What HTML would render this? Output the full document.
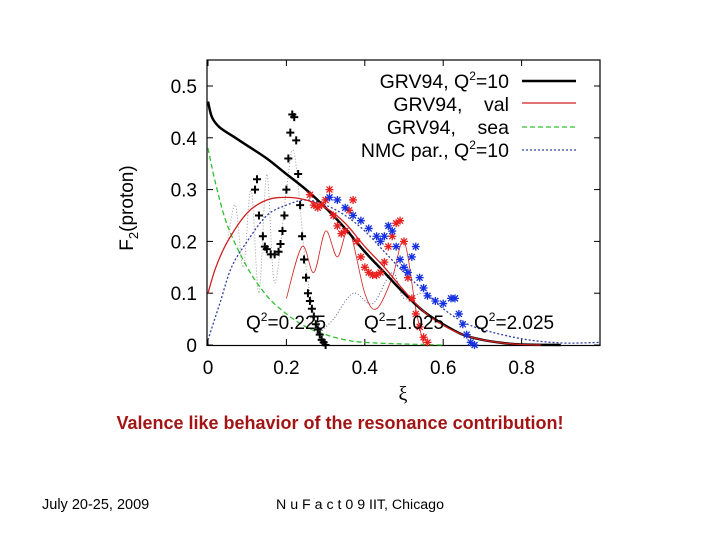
<!DOCTYPE html>
<html><head><meta charset="utf-8"><style>
body{margin:0;background:#fff;width:720px;height:540px;overflow:hidden;font-family:"Liberation Sans",sans-serif}
svg{position:absolute;left:0;top:0}
text{white-space:pre}
</style></head><body>
<svg id="c" width="720" height="540">
<rect x="207" y="60" width="393" height="285.5" fill="none" stroke="#000" stroke-width="1.2"/>
<g id="axes"></g>
<g id="marks"></g>
<text x="133" y="208" transform="rotate(-90 133 208)" text-anchor="middle" font-size="19">F<tspan font-size="13" dy="5">2</tspan><tspan dy="-5">(proton)</tspan></text>
<text x="403" y="400" text-anchor="middle" font-size="20" font-family="Liberation Serif">ξ</text>
<g font-size="19.5">
<text x="509" y="88" text-anchor="end">GRV94, Q<tspan font-size="12" dy="-8">2</tspan><tspan dy="8">=10</tspan></text>
<line x1="522" y1="81" x2="576" y2="81" stroke="#000" stroke-width="2.5"/>
<text x="509" y="111" text-anchor="end">GRV94,    val</text>
<line x1="522" y1="103" x2="576" y2="103" stroke="#d02020" stroke-width="1.2"/>
<text x="509" y="134" text-anchor="end">GRV94,    sea</text>
<line x1="522" y1="127" x2="576" y2="127" stroke="#30c030" stroke-width="1.3" stroke-dasharray="5,3"/>
<text x="509" y="157" text-anchor="end">NMC par., Q<tspan font-size="12" dy="-8">2</tspan><tspan dy="8">=10</tspan></text>
<line x1="522" y1="150" x2="576" y2="150" stroke="#3040a0" stroke-width="1.2" stroke-dasharray="2,2"/>
</g>
<g font-size="19">
<text x="246" y="329">Q<tspan font-size="12" dy="-8">2</tspan><tspan dy="8">=0.225</tspan></text>
<text x="364" y="329">Q<tspan font-size="12" dy="-8">2</tspan><tspan dy="8">=1.025</tspan></text>
<text x="474" y="329">Q<tspan font-size="12" dy="-8">2</tspan><tspan dy="8">=2.025</tspan></text>
</g>
<text x="340" y="429" text-anchor="middle" font-size="18" font-weight="bold" fill="#a31515">Valence like behavior of the resonance contribution!</text>
<text x="42" y="509" font-size="14.5">July 20-25, 2009</text>
<text x="276" y="509" font-size="14.2">N u F a c t 0 9 IIT, Chicago</text>
</svg>
<script>
const xTicks=[0,0.2,0.4,0.6,0.8];
const xTickLabels=["0","0.2","0.4","0.6","0.8"];
const yTicks=[0,0.1,0.2,0.3,0.4,0.5];
const yTickLabels=["0","0.1","0.2","0.3","0.4","0.5"];
const grvTotal=[[0,0.47],[0.01,0.44],[0.03,0.42],[0.07,0.40],[0.1,0.385],[0.15,0.36],[0.2,0.33],[0.25,0.30],[0.3,0.265],[0.35,0.225],[0.4,0.18],[0.45,0.14],[0.5,0.1],[0.55,0.065],[0.6,0.04],[0.65,0.02],[0.7,0.01],[0.75,0.004],[0.8,0.001],[0.9,0]];
const grvVal=[[0,0.1],[0.02,0.15],[0.05,0.2],[0.1,0.255],[0.15,0.28],[0.2,0.285],[0.25,0.28],[0.3,0.265],[0.35,0.235],[0.4,0.19],[0.45,0.15],[0.5,0.105],[0.55,0.065],[0.6,0.038],[0.65,0.02],[0.7,0.01],[0.75,0.004],[0.8,0.001],[0.85,0]];
const grvSea=[[0,0.38],[0.02,0.31],[0.05,0.23],[0.1,0.15],[0.15,0.095],[0.2,0.06],[0.25,0.035],[0.3,0.02],[0.35,0.01],[0.4,0.005],[0.5,0.002],[0.6,0]];
const nmc=[[0,0.01],[0.03,0.08],[0.06,0.15],[0.1,0.2],[0.15,0.25],[0.2,0.27],[0.25,0.28],[0.3,0.27],[0.35,0.25],[0.4,0.22],[0.45,0.18],[0.5,0.14],[0.55,0.105],[0.6,0.07],[0.65,0.045],[0.7,0.03],[0.8,0.012],[0.9,0.004],[1.0,0.005]];
const resLow=[[0.05,0.2],[0.07,0.27],[0.09,0.15],[0.11,0.3],[0.13,0.1],[0.15,0.33],[0.17,0.12],[0.2,0.3],[0.22,0.37],[0.25,0.15],[0.28,0.02]];
const resMid=[[0.2,0.09],[0.24,0.19],[0.27,0.14],[0.3,0.22],[0.33,0.17],[0.36,0.22],[0.4,0.1],[0.43,0.07],[0.47,0.13],[0.5,0.2],[0.53,0.07],[0.55,0]];
const resHigh=[[0.28,0.02],[0.32,0.05],[0.37,0.1],[0.42,0.08],[0.47,0.14],[0.5,0.09],[0.55,0.1],[0.6,0.07]];
const dataLow=[[0.12,0.30],[0.125,0.32],[0.13,0.25],[0.14,0.21],[0.145,0.19],[0.15,0.185],[0.16,0.175],[0.17,0.175],[0.18,0.18],[0.185,0.195],[0.19,0.22],[0.195,0.25],[0.2,0.30],[0.205,0.36],[0.21,0.41],[0.215,0.445],[0.22,0.44],[0.225,0.395],[0.23,0.33],[0.235,0.27],[0.24,0.21],[0.245,0.165],[0.25,0.13],[0.255,0.1],[0.26,0.085],[0.265,0.07],[0.27,0.055],[0.275,0.04],[0.28,0.03],[0.285,0.02],[0.29,0.01],[0.295,0.005],[0.3,0]];
const dataMid=[[0.26,0.29],[0.27,0.27],[0.28,0.265],[0.29,0.27],[0.3,0.28],[0.31,0.30],[0.32,0.25],[0.33,0.23],[0.34,0.215],[0.35,0.22],[0.36,0.26],[0.37,0.28],[0.38,0.2],[0.39,0.17],[0.4,0.15],[0.41,0.14],[0.42,0.135],[0.43,0.135],[0.44,0.14],[0.45,0.16],[0.46,0.19],[0.47,0.21],[0.48,0.235],[0.49,0.24],[0.5,0.2],[0.51,0.13],[0.52,0.09],[0.53,0.06],[0.54,0.035],[0.55,0.015],[0.56,0.005]];
const dataHigh=[[0.31,0.285],[0.33,0.28],[0.35,0.265],[0.37,0.25],[0.39,0.24],[0.41,0.225],[0.43,0.21],[0.44,0.2],[0.45,0.21],[0.46,0.23],[0.47,0.22],[0.48,0.19],[0.49,0.165],[0.5,0.15],[0.51,0.14],[0.52,0.17],[0.53,0.19],[0.54,0.13],[0.55,0.11],[0.56,0.095],[0.58,0.085],[0.6,0.08],[0.62,0.09],[0.63,0.09],[0.64,0.06],[0.65,0.04],[0.66,0.02],[0.67,0.005],[0.68,0]];

const NS="http://www.w3.org/2000/svg";
const sx=v=>208+v*392, sy=v=>345-v*518;
const axes=document.getElementById('axes'), marks=document.getElementById('marks');
function mk(tag,attrs,parent){const e=document.createElementNS(NS,tag);for(const k in attrs)e.setAttribute(k,attrs[k]);parent.appendChild(e);return e;}
xTicks.forEach((t,i)=>{
  mk('line',{x1:sx(t),x2:sx(t),y1:345,y2:339,stroke:'#000'},axes);
  mk('line',{x1:sx(t),x2:sx(t),y1:60,y2:66,stroke:'#000'},axes);
  const tx=mk('text',{x:sx(t),y:374,'text-anchor':'middle','font-size':19},axes);
  
  
  tx.textContent=xTickLabels[i];
});
yTicks.forEach((t,i)=>{
  mk('line',{x1:207,x2:213,y1:sy(t),y2:sy(t),stroke:'#000'},axes);
  mk('line',{x1:594,x2:600,y1:sy(t),y2:sy(t),stroke:'#000'},axes);
  const tx=mk('text',{x:197,y:sy(t)+7,'text-anchor':'end','font-size':19},axes);
  
  
  tx.textContent=yTickLabels[i];
});
function smooth(data){
  const P=data.map(d=>[sx(d[0]),sy(d[1])]);
  let s='M'+P[0][0]+','+P[0][1];
  for(let i=0;i<P.length-1;i++){
    const p0=P[i-1]||P[i],p1=P[i],p2=P[i+1],p3=P[i+2]||p2;
    const c1=[p1[0]+(p2[0]-p0[0])/6,p1[1]+(p2[1]-p0[1])/6];
    const c2=[p2[0]-(p3[0]-p1[0])/6,p2[1]-(p3[1]-p1[1])/6];
    s+=`C${c1[0]},${c1[1]} ${c2[0]},${c2[1]} ${p2[0]},${p2[1]}`;
  }
  return s;
}
function line(data,name,style){
  const p=mk('path',Object.assign({d:smooth(data),fill:'none','stroke-linejoin':'round'},style),marks);
  
  
}
line(resLow,'resonance-curve-low',{stroke:'#999','stroke-width':1,'stroke-dasharray':'1,2'});
line(resMid,'resonance-curve-mid',{stroke:'#d02020','stroke-width':0.8});
line(resHigh,'resonance-curve-high',{stroke:'#5060a0','stroke-width':1,'stroke-dasharray':'1,2'});
line(grvSea,'grv-sea-line',{stroke:'#30c030','stroke-width':1.3,'stroke-dasharray':'5,3'});
line(nmc,'nmc-line',{stroke:'#3040a0','stroke-width':1.3,'stroke-dasharray':'2,2'});
line(grvTotal,'grv-total-line',{stroke:'#000','stroke-width':2.5});
line(grvVal,'grv-val-line',{stroke:'#d02020','stroke-width':1.3});
function pts(data,name,color,star){
  data.forEach(d=>{
    const x=sx(d[0]),y=sy(d[1]);
    const g=mk('path',{d:star?`M${x-4},${y}h8M${x},${y-4}v8M${x-3},${y-3}l6,6M${x-3},${y+3}l6,-6`:`M${x-4},${y}h8M${x},${y-4}v8`,stroke:color,'stroke-width':star?1.3:2},marks);
    
    
  });
}
pts(dataLow,'data-point-q2-0225','#000',false);
pts(dataMid,'data-point-q2-1025','#e82020',true);
pts(dataHigh,'data-point-q2-2025','#1530e0',true);
</script>
</body></html>
